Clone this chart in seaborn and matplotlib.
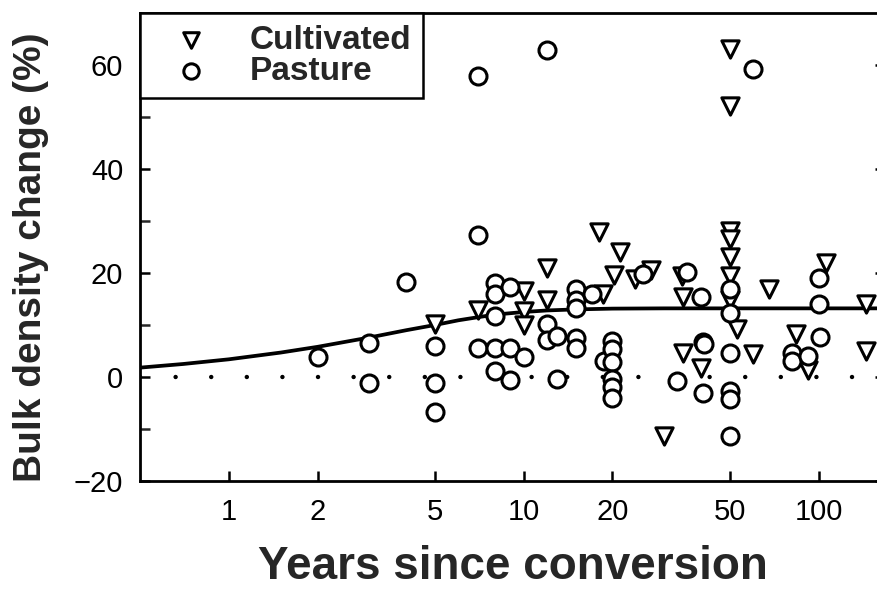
import numpy as np
import pandas as pd
import matplotlib
matplotlib.use("Agg")
import matplotlib.pyplot as plt
import seaborn as sns
from matplotlib.ticker import FixedLocator, NullLocator

# ---- data ----
cult_years = [5, 7, 10, 10, 10, 12, 12, 18, 18.6, 20.2, 21.2, 23.8, 27, 30,
              34.5, 34.7, 34.7, 40, 50, 50, 50, 50, 50, 50, 50, 53, 60, 68,
              84, 92, 106, 145, 145]
cult_change = [10.1, 12.8, 16.5, 12.7, 10.0, 21.0, 14.9, 27.8, 16.0, 19.6, 24.0,
               18.8, 20.5, -11.3, 19.4, 15.3, 4.7, 1.8, 63.0, 52.1, 28.1, 26.5,
               23.0, 19.4, 14.8, 9.2, 4.5, 17.0, 8.2, 1.3, 22.0, 14.1, 5.0]

past_years = [2, 3, 3, 4, 5, 5, 5, 7, 7, 7, 8, 8, 8, 8, 8, 9, 9, 9, 10,
              12, 12, 12, 13, 13, 15, 15, 15, 15, 15, 17, 18.7, 20, 20, 20,
              20, 20, 20, 25.4, 33, 35.8, 40, 40.5, 41, 40.5, 50, 50, 50, 50,
              50, 50, 60, 81, 81, 92, 100, 100, 101]
past_change = [3.9, 6.6, -1.2, 18.2, 6.0, -1.1, -6.7, 57.8, 27.4, 5.6, 18.0,
               16.0, 11.8, 5.5, 1.1, 17.4, 5.5, -0.5, 3.9, 62.9, 10.1, 7.1,
               7.9, -0.4, 16.9, 14.9, 13.2, 7.5, 5.6, 15.9, 3.1, 6.9, 5.3,
               2.8, -0.4, -2.0, -4.0, 19.8, -0.7, 20.1, 15.3, 6.8, 6.3, -3.0,
               16.9, 12.4, 4.7, -2.7, -4.3, -11.3, 59.3, 4.7, 3.1, 4.0, 19.1,
               14.0, 7.6]

curve_years = [0.5, 0.7, 1, 1.5, 2, 3, 4, 5, 6, 7, 8, 10, 12, 15, 20, 30, 50, 168]
curve_change = [1.8, 2.5, 3.4, 4.7, 5.8, 7.6, 9.0, 10.0, 10.9, 11.5, 12.0, 12.5,
                12.8, 13.0, 13.15, 13.2, 13.2, 13.2]

x_ticks = [1, 2, 5, 10, 20, 50, 100]
x_ticklabels = ["1", "2", "5", "10", "20", "50", "100"]
y_ticks = [-20, 0, 20, 40, 60]
y_minor = [-10, 10, 30, 50]

cult = pd.DataFrame({"years": cult_years, "change": cult_change})
past = pd.DataFrame({"years": past_years, "change": past_change})
curve = pd.DataFrame({"years": curve_years, "change": curve_change})

sns.set_style("ticks")
plt.rcParams["font.family"] = ["Liberation Sans", "DejaVu Sans"]

fig = plt.figure(figsize=(8.78, 5.97), dpi=100)
ax = fig.add_axes([140 / 878, 1 - 481 / 597, (885 - 140) / 878, (481 - 13) / 597])
ax.set_xscale("log")

# zero reference (dotted)
ax.axhline(0, color="black", lw=3.2, linestyle=(0, (0.01, 8.0)),
           dash_capstyle="round", zorder=1)

# fitted curve
sns.lineplot(data=curve, x="years", y="change", color="black", lw=2.7,
             ax=ax, zorder=2, sort=True)

sns.scatterplot(data=cult, x="years", y="change", marker="v", s=155,
                facecolor="white", edgecolor="black", linewidth=2.2,
                label="Cultivated", ax=ax, zorder=3)
sns.scatterplot(data=past, x="years", y="change", marker="o", s=150,
                facecolor="white", edgecolor="black", linewidth=2.2,
                label="Pasture", ax=ax, zorder=3)

ax.set_xlim(0.5, 168)
ax.set_ylim(-20, 70)

ax.xaxis.set_major_locator(FixedLocator(x_ticks))
ax.set_xticklabels(x_ticklabels)
ax.xaxis.set_minor_locator(NullLocator())
ax.yaxis.set_major_locator(FixedLocator(y_ticks))
ax.yaxis.set_minor_locator(FixedLocator(y_minor))

ax.tick_params(axis="both", which="major", direction="in", length=7, width=1.8,
               labelsize=21, colors="black")
ax.tick_params(axis="x", which="major", pad=12)
ax.tick_params(axis="y", which="major", right=True, pad=12)
ax.tick_params(axis="y", which="minor", direction="in", length=7, width=1.8,
               left=True, right=False)

for sp in ax.spines.values():
    sp.set_visible(True)
    sp.set_linewidth(2.0)
    sp.set_color("black")

ax.set_xlabel("Years since conversion", fontsize=33, fontweight="bold", labelpad=14)
ax.set_ylabel("Bulk density change (%)", fontsize=28, fontweight="bold")
ax.yaxis.set_label_coords(-0.122, 0.479)

leg = ax.legend(loc="upper left", bbox_to_anchor=(0, 1), borderaxespad=0,
                frameon=True, fancybox=False, framealpha=1, edgecolor="black",
                prop={"size": 24, "weight": "bold"}, handlelength=2.35,
                handletextpad=0.6, labelspacing=0.0, borderpad=0.35,
                markerscale=0.9)
leg.get_frame().set_linewidth(1.8)

fig.savefig("out.png", dpi=100)
